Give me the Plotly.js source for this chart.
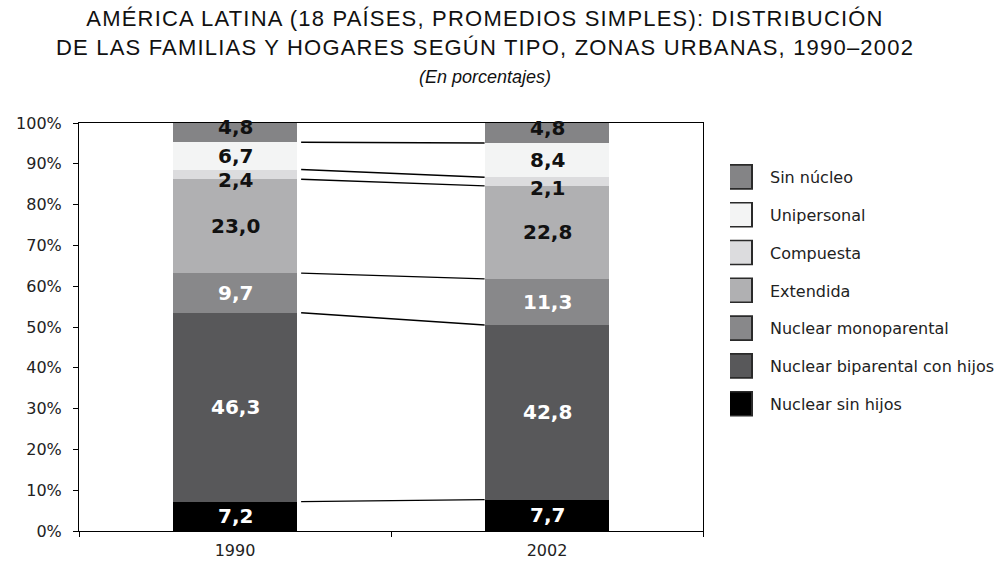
<!DOCTYPE html>
<html>
<head>
<meta charset="utf-8">
<script src="https://cdn.plot.ly/plotly-3.0.1.min.js"></script>
<style>
  html, body { margin: 0; padding: 0; background: #ffffff; }
  #chart { width: 997px; height: 561px; }
</style>
</head>
<body>
<div id="chart"></div>
<script>
// ---- Data ----
const categories = ['1990', '2002'];
const seriesNames = [
  'Nuclear sin hijos',
  'Nuclear biparental con hijos',
  'Nuclear monoparental',
  'Extendida',
  'Compuesta',
  'Unipersonal',
  'Sin núcleo'
];
const values1990 = [7.2, 46.3, 9.7, 23.0, 2.4, 6.7, 4.8];
const values2002 = [7.7, 42.8, 11.3, 22.8, 2.1, 8.4, 4.8];

// ---- Styles ----
const seriesColors = ['#000000', '#58585a', '#88888a', '#b0b0b2', '#dcdcde', '#f3f4f4', '#848486'];
const labelColors  = ['#ffffff', '#ffffff', '#ffffff', '#111111', '#111111', '#111111', '#111111'];
const labelShift   = [0, 0, 0, 0, -6, 0, 5];   // px, positive = up
const barWidth = 0.4;
const FONT = 'DejaVu Sans, Verdana, sans-serif';

const valuesByYear = [values1990, values2002];

// bar traces
const traces = seriesNames.map((name, i) => ({
  type: 'bar',
  name: name,
  x: categories,
  y: valuesByYear.map(v => v[i]),
  width: barWidth,
  marker: { color: seriesColors[i], line: { width: 0 } },
  legendgroup: 'g' + i,
  legendrank: 1000 - i,
  hoverinfo: 'name+y'
}));

// cumulative tops of each segment
function cumulative(vals) {
  const out = [];
  let s = 0;
  vals.forEach(v => { s += v; out.push(s); });
  return out;
}
const cum = valuesByYear.map(cumulative);

// connector lines between the segment boundaries (all but the top)
for (let k = 0; k < seriesNames.length - 1; k++) {
  traces.push({
    type: 'scatter',
    mode: 'lines',
    xaxis: 'x2',
    x: [0 + barWidth / 2 + 0.012, 1 - barWidth / 2],
    y: [cum[0][k], cum[1][k]],
    line: { color: '#000000', width: 1.4 },
    showlegend: false,
    hoverinfo: 'skip'
  });
}

// segment labels
const annotations = [];
categories.forEach((cat, j) => {
  valuesByYear[j].forEach((v, i) => {
    const base = cum[j][i] - v;
    annotations.push({
      xref: 'x', yref: 'y',
      x: j, y: base + v / 2,
      text: '<b>' + v.toFixed(1).replace('.', ',') + '</b>',
      showarrow: false,
      yshift: labelShift[i],
      font: { family: FONT, size: 20, color: labelColors[i] }
    });
  });
});

const titleStyle = 'letter-spacing:1.2px';
const layout = {
  width: 997,
  height: 561,
  paper_bgcolor: '#ffffff',
  plot_bgcolor: '#ffffff',
  margin: { l: 79, r: 294, t: 123, b: 30, pad: 0 },
  font: { family: FONT, size: 17, color: '#222222' },
  title: {
    text: '<span style="' + titleStyle + '">AMÉRICA LATINA (18 PAÍSES, PROMEDIOS SIMPLES): DISTRIBUCIÓN</span><br>' +
          '<span style="' + titleStyle + '">DE LAS FAMILIAS Y HOGARES SEGÚN TIPO, ZONAS URBANAS, 1990–2002</span><br>' +
          '<i><span style="font-size:18px">(En porcentajes)</span></i>',
    font: { family: 'Liberation Sans, Arial, sans-serif', size: 22, color: '#111111' },
    x: 485 / 997,
    xanchor: 'center',
    xref: 'container',
    y: 1 - 26 / 561,
    yanchor: 'top',
    yref: 'container'
  },
  barmode: 'stack',
  showlegend: true,
  legend: {
    traceorder: 'grouped',
    tracegroupgap: 14,
    font: { family: FONT, size: 16, color: '#222222' },
    xref: 'container', yref: 'container',
    x: 730 / 997, xanchor: 'left',
    y: 1 - 160 / 561, yanchor: 'top',
    bgcolor: 'rgba(0,0,0,0)',
    borderwidth: 0
  },
  xaxis: {
    type: 'category',
    categoryorder: 'array',
    categoryarray: categories,
    range: [-0.5, 1.5],
    tickson: 'boundaries',
    ticks: 'outside',
    ticklen: 5,
    tickcolor: '#000000',
    showline: true,
    linecolor: '#000000',
    linewidth: 1,
    mirror: true,
    showgrid: false,
    zeroline: false,
    ticklabelstandoff: 5,
    tickfont: { family: FONT, size: 16, color: '#222222' },
    fixedrange: true
  },
  xaxis2: {
    overlaying: 'x',
    range: [-0.5, 1.5],
    visible: false,
    fixedrange: true
  },
  yaxis: {
    range: [0, 100],
    dtick: 10,
    ticksuffix: '%',
    ticks: 'outside',
    ticklen: 5,
    tickcolor: '#000000',
    showline: true,
    linecolor: '#000000',
    linewidth: 1,
    mirror: true,
    showgrid: false,
    zeroline: false,
    ticklabelstandoff: 8,
    tickfont: { family: FONT, size: 16, color: '#222222' },
    fixedrange: true
  },
  annotations: annotations
};

Plotly.newPlot('chart', traces, layout, { displayModeBar: false, staticPlot: true }).then(gd => {
  // enlarge the legend swatches to match the reference's bigger boxes
  gd.querySelectorAll('.legend .legendpoints path').forEach(p => {
    const t = p.getAttribute('transform') || '';
    p.setAttribute('transform', t + ' translate(-13,0) scale(2.5,2)');
    p.style.stroke = '#2a2a2a';
    p.style.strokeWidth = '0.8px';
  });
});
</script>
</body>
</html>
